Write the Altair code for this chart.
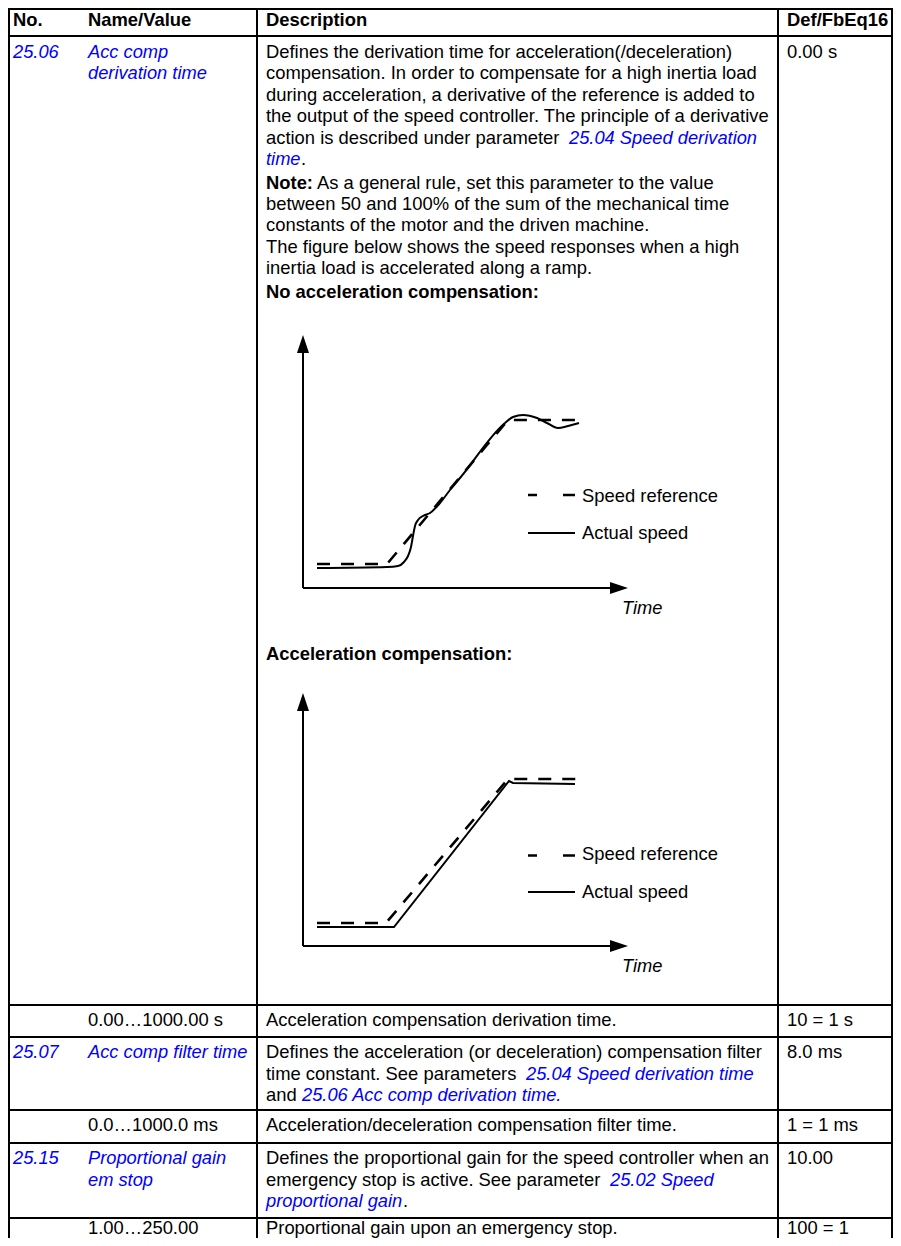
import altair as alt
import pandas as pd

# ---------------- content ----------------
HEADERS = ["No.", "Name/Value", "Description", "Def/FbEq16"]

DESC_2506 = [
    "Defines the derivation time for acceleration(/deceleration)",
    "compensation. In order to compensate for a high inertia load",
    "during acceleration, a derivative of the reference is added to",
    "the output of the speed controller. The principle of a derivative",
    "action is described under parameter",
]
NOTE_LINES = [
    "between 50 and 100% of the sum of the mechanical time",
    "constants of the motor and the driven machine.",
]
FIG_LINES = [
    "The figure below shows the speed responses when a high",
    "inertia load is accelerated along a ramp.",
]
LEGEND_LABELS = ["Speed reference", "Actual speed"]
FIG_TITLES = ["No acceleration compensation:", "Acceleration compensation:"]

# curve values: time / speed units measured from each figure's axis origin
REF1_T = [14, 84, 205, 276]
REF1_S = [24, 24, 168, 168]
ACT1_T = [14, 84, 95, 101, 105, 108, 110, 112, 115, 120, 127, 137, 147, 157, 202, 210, 220, 234, 244, 255, 265, 276]
ACT1_S = [20, 21, 22, 26, 32, 41, 52, 62, 68, 72, 75, 85, 98, 110, 165, 171, 173, 170, 165, 160, 162, 165]
REF2_T = [14, 83, 205, 274]
REF2_S = [23, 23, 167, 167]
ACT2_T = [14, 91, 206, 210, 272]
ACT2_S = [19, 19, 165, 163, 162]

# ---------------- layout ----------------
FS_REG, FS_ITAL, FS_BOLD = 18.4, 18.3, 18.4
FONT = "Liberation Sans"
BLUE = "#0000ff"
COL_X = [13, 88, 266, 787]
H_RULES = [9, 36, 1005, 1037, 1110, 1143, 1218]   # first = outer frame (kept inside the page)
V_RULES = [9, 257, 778, 892]                       # outer frame lines kept inside the page
BOTTOM = 1246
FIG_ORIGINS = [(303, 588), (303, 946)]
AX_LEN_X, AX_LEN_Y = 325, 253
LEG_X0, LEG_X1, LEG_TX = 528, 575, 582

texts = []
def add(t, x, y, style):
    texts.append({"text": t, "px": x, "py": y, "style": style})

for h, x in zip(HEADERS, COL_X):
    add(h, x, 26, "bold")

# row 25.06
add("25.06", COL_X[0], 57.5, "link")
add("Acc comp", COL_X[1], 57.5, "link")
add("derivation time", COL_X[1], 79, "link")
for i, line in enumerate(DESC_2506):
    add(line, COL_X[2], 57.5 + 21.5 * i, "reg")
add("25.04 Speed derivation", 569, 143.5, "link")
add("time", COL_X[2], 165, "link")
add(".", 301, 165, "reg")
add("Note:", COL_X[2], 188.5, "bold")
add("As a general rule, set this parameter to the value", 317, 188.5, "reg")
for i, line in enumerate(NOTE_LINES):
    add(line, COL_X[2], 209.5 + 21 * i, "reg")
for i, line in enumerate(FIG_LINES):
    add(line, COL_X[2], 252.5 + 21 * i, "reg")
add(FIG_TITLES[0], COL_X[2], 297.5, "bold")
add("0.00 s", COL_X[3], 57.5, "reg")

# figure texts
for (ox, oy), leg_dy in zip(FIG_ORIGINS, [(-86.5, -49.5), (-86, -48.5)]):
    add(LEGEND_LABELS[0], LEG_TX, oy + leg_dy[0], "reg")
    add(LEGEND_LABELS[1], LEG_TX, oy + leg_dy[1], "reg")
    add("Time", 622, oy + 25.5, "ital")
add(FIG_TITLES[1], COL_X[2], 659.5, "bold")

# lower rows
add("0.00\u20261000.00 s", COL_X[1], 1026, "reg")
add("Acceleration compensation derivation time.", COL_X[2], 1026, "reg")
add("10 = 1 s", COL_X[3], 1026, "reg")

add("25.07", COL_X[0], 1058, "link")
add("Acc comp filter time", COL_X[1], 1058, "link")
add("Defines the acceleration (or deceleration) compensation filter", COL_X[2], 1058, "reg")
add("time constant. See parameters", COL_X[2], 1079.5, "reg")
add("25.04 Speed derivation time", 526, 1079.5, "link")
add("and", COL_X[2], 1101, "reg")
add("25.06 Acc comp derivation time.", 302, 1101, "link")
add("8.0 ms", COL_X[3], 1058, "reg")

add("0.0\u20261000.0 ms", COL_X[1], 1131, "reg")
add("Acceleration/deceleration compensation filter time.", COL_X[2], 1131, "reg")
add("1 = 1 ms", COL_X[3], 1131, "reg")

add("25.15", COL_X[0], 1164, "link")
add("Proportional gain", COL_X[1], 1164, "link")
add("em stop", COL_X[1], 1185.5, "link")
add("Defines the proportional gain for the speed controller when an", COL_X[2], 1164, "reg")
add("emergency stop is active. See parameter", COL_X[2], 1185.5, "reg")
add("25.02 Speed", 610, 1185.5, "link")
add("proportional gain", COL_X[2], 1207, "link")
add(".", 403, 1207, "reg")
add("10.00", COL_X[3], 1164, "reg")

# last row: lifted a little so that it stays inside the page
add("1.00\u2026250.00", COL_X[1], 1234, "reg")
add("Proportional gain upon an emergency stop.", COL_X[2], 1234, "reg")
add("100 = 1", COL_X[3], 1234, "reg")

tdf = pd.DataFrame(texts)

# table rules
hr = pd.DataFrame({"px": [V_RULES[0] - 1] * len(H_RULES), "px2": [V_RULES[-1] + 1] * len(H_RULES), "py": H_RULES})
vr = pd.DataFrame({"px": V_RULES, "py": [H_RULES[0] - 1] * len(V_RULES), "py2": [BOTTOM] * len(V_RULES)})

# curves
curves = []
for fig, (ox, oy) in enumerate(FIG_ORIGINS):
    series = [("ref", REF1_T, REF1_S), ("act", ACT1_T, ACT1_S)] if fig == 0 else \
             [("ref", REF2_T, REF2_S), ("act", ACT2_T, ACT2_S)]
    for name, ts, ss in series:
        for k, (t, s) in enumerate(zip(ts, ss)):
            curves.append({"fig": fig, "series": name, "k": k, "px": ox + t, "py": oy - s,
                           "key": f"{fig}-{name}"})
cdf = pd.DataFrame(curves)

# axes of the figures
ax_v = pd.DataFrame({"px": [o[0] for o in FIG_ORIGINS],
                     "py": [o[1] - AX_LEN_Y + 14 for o in FIG_ORIGINS],
                     "py2": [o[1] for o in FIG_ORIGINS]})
ax_h = pd.DataFrame({"px": [o[0] for o in FIG_ORIGINS],
                     "px2": [o[0] + AX_LEN_X - 14 for o in FIG_ORIGINS],
                     "py": [o[1] for o in FIG_ORIGINS]})
arr_up = pd.DataFrame({"px": [o[0] for o in FIG_ORIGINS], "py": [o[1] - AX_LEN_Y + 9 for o in FIG_ORIGINS]})
arr_rt = pd.DataFrame({"px": [o[0] + AX_LEN_X - 9 for o in FIG_ORIGINS], "py": [o[1] for o in FIG_ORIGINS]})

leg_dash = pd.DataFrame({"px": [LEG_X0, LEG_X0], "px2": [LEG_X1, LEG_X1],
                         "py": [FIG_ORIGINS[0][1] - 93, FIG_ORIGINS[1][1] - 90.5]})
leg_solid = pd.DataFrame({"px": [LEG_X0, LEG_X0], "px2": [LEG_X1, LEG_X1],
                          "py": [FIG_ORIGINS[0][1] - 55, FIG_ORIGINS[1][1] - 54]})

# ---------------- chart ----------------
# the page has an 8px margin: the plot area covers reference pixels 8..893 x 8..1238
W, H = 885, 1230
xs = alt.Scale(domain=[8, 8 + W], nice=False, zero=False)
ys = alt.Scale(domain=[8, 8 + H], nice=False, zero=False, reverse=True)
X = lambda f="px": alt.X(f"{f}:Q", scale=xs, axis=None)
Y = lambda f="py": alt.Y(f"{f}:Q", scale=ys, axis=None)

layers = []
layers.append(alt.Chart(hr).mark_rule(color="black", strokeWidth=2).encode(
    x=X(), x2=alt.X2("px2:Q"), y=Y()))
layers.append(alt.Chart(vr).mark_rule(color="black", strokeWidth=2).encode(
    x=X(), y=Y(), y2=alt.Y2("py2:Q")))
layers.append(alt.Chart(ax_v).mark_rule(color="black", strokeWidth=2).encode(
    x=X(), y=Y(), y2=alt.Y2("py2:Q")))
layers.append(alt.Chart(ax_h).mark_rule(color="black", strokeWidth=2).encode(
    x=X(), x2=alt.X2("px2:Q"), y=Y()))
layers.append(alt.Chart(arr_up).mark_point(shape="M0,-1L0.667,1L-0.667,1Z", filled=True, size=324,
                                           color="black", opacity=1, strokeWidth=0).encode(x=X(), y=Y()))
layers.append(alt.Chart(arr_rt).mark_point(shape="M1,0L-1,-0.667L-1,0.667Z", filled=True, size=324,
                                           color="black", opacity=1, strokeWidth=0).encode(x=X(), y=Y()))
act = cdf[cdf.series == "act"]
layers.append(alt.Chart(act[act.fig == 0]).mark_line(color="black", strokeWidth=2,
                                                     interpolate="monotone").encode(
    x=X(), y=Y(), order="k:Q"))
layers.append(alt.Chart(act[act.fig == 1]).mark_line(color="black", strokeWidth=2).encode(
    x=X(), y=Y(), order="k:Q"))
layers.append(alt.Chart(cdf[cdf.series == "ref"]).mark_line(color="black", strokeWidth=2.6,
                                                            strokeDash=[13, 11]).encode(
    x=X(), y=Y(), detail="key:N", order="k:Q"))
layers.append(alt.Chart(leg_dash).mark_rule(color="black", strokeWidth=2.6, strokeDash=[9, 26, 12, 26]).encode(
    x=X(), x2=alt.X2("px2:Q"), y=Y()))
layers.append(alt.Chart(leg_solid).mark_rule(color="black", strokeWidth=2).encode(
    x=X(), x2=alt.X2("px2:Q"), y=Y()))

styles = {
    "reg": dict(fontWeight="normal", fontStyle="normal", color="black", fontSize=FS_REG),
    "bold": dict(fontWeight="bold", fontStyle="normal", color="black", fontSize=FS_BOLD),
    "link": dict(fontWeight="normal", fontStyle="italic", color=BLUE, fontSize=FS_ITAL),
    "ital": dict(fontWeight="normal", fontStyle="italic", color="black", fontSize=FS_ITAL),
}
for st, kw in styles.items():
    layers.append(alt.Chart(tdf[tdf["style"] == st]).mark_text(
        font=FONT, align="left", baseline="alphabetic", **kw).encode(
        x=X(), y=Y(), text="text:N"))

chart = alt.layer(*layers).properties(
    width=W, height=H, padding=0, autosize=alt.AutoSizeParams(type="none"),
    background="white",
).configure_view(stroke=None)

chart.save("out.html", embed_options={"renderer": "svg", "actions": False})
